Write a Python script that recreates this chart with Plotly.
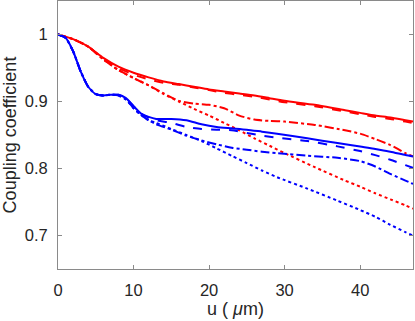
import plotly.graph_objects as go

u_red = [0, 2, 4, 6, 8, 10, 12, 14, 16, 18, 20, 22, 24, 26, 28, 30, 34, 38, 40, 42, 44, 46, 47]
red_solid = [1.0, 0.993, 0.982, 0.965, 0.952, 0.943, 0.936, 0.930, 0.926, 0.922, 0.918, 0.915, 0.912, 0.909, 0.905, 0.901, 0.895, 0.887, 0.883, 0.879, 0.876, 0.872, 0.870]
red_dash = [1.0, 0.993, 0.982, 0.963, 0.950, 0.940, 0.933, 0.928, 0.925, 0.921, 0.917, 0.913, 0.910, 0.907, 0.903, 0.899, 0.893, 0.885, 0.881, 0.877, 0.874, 0.870, 0.868]
red_dashdot = [1.0, 0.993, 0.982, 0.963, 0.947, 0.935, 0.924, 0.912, 0.901, 0.897, 0.895, 0.890, 0.879, 0.873, 0.871, 0.870, 0.865, 0.857, 0.852, 0.844, 0.835, 0.823, 0.818]
red_dot = [1.0, 0.993, 0.982, 0.963, 0.947, 0.935, 0.924, 0.911, 0.900, 0.889, 0.879, 0.868, 0.857, 0.845, 0.834, 0.823, 0.802, 0.782, 0.773, 0.763, 0.754, 0.745, 0.740]

u_blue = [0, 1, 2, 3, 4, 5, 6, 7, 8, 9, 10, 11, 12, 13, 15, 17, 19, 21, 23, 25, 27, 29, 33, 37, 40, 42, 44, 46, 47]
blue_solid = [1.0, 0.995, 0.975, 0.945, 0.922, 0.911, 0.909, 0.910, 0.910, 0.905, 0.893, 0.882, 0.877, 0.874, 0.874, 0.872, 0.866, 0.862, 0.860, 0.858, 0.855, 0.852, 0.845, 0.838, 0.833, 0.829, 0.825, 0.820, 0.818]
blue_dash = [1.0, 0.995, 0.975, 0.945, 0.922, 0.911, 0.909, 0.910, 0.910, 0.905, 0.893, 0.882, 0.876, 0.872, 0.868, 0.862, 0.859, 0.858, 0.857, 0.853, 0.849, 0.846, 0.841, 0.833, 0.826, 0.820, 0.813, 0.805, 0.801]
blue_dashdot = [1.0, 0.995, 0.975, 0.945, 0.922, 0.911, 0.909, 0.910, 0.909, 0.903, 0.890, 0.880, 0.872, 0.866, 0.858, 0.849, 0.842, 0.836, 0.831, 0.828, 0.825, 0.823, 0.819, 0.816, 0.811, 0.803, 0.792, 0.782, 0.777]
blue_dot = [1.0, 0.995, 0.975, 0.945, 0.922, 0.911, 0.909, 0.910, 0.909, 0.903, 0.890, 0.880, 0.872, 0.868, 0.859, 0.850, 0.841, 0.830, 0.819, 0.808, 0.797, 0.787, 0.770, 0.752, 0.738, 0.728, 0.716, 0.705, 0.700]

x_ticks = [0, 10, 20, 30, 40]
y_ticks = [0.7, 0.8, 0.9, 1.0]
y_tick_labels = ["0.7", "0.8", "0.9", "1"]

RED = "#ff0000"
BLUE = "#0000ff"

fig = go.Figure()
series = [
    (u_red, red_solid, RED, "solid"),
    (u_red, red_dash, RED, "dash"),
    (u_red, red_dashdot, RED, "dashdot"),
    (u_red, red_dot, RED, "dot"),
    (u_blue, blue_solid, BLUE, "solid"),
    (u_blue, blue_dash, BLUE, "dash"),
    (u_blue, blue_dashdot, BLUE, "dashdot"),
    (u_blue, blue_dot, BLUE, "dot"),
]
for xs, ys, c, d in series:
    fig.add_trace(go.Scatter(x=xs, y=ys, mode="lines", line=dict(color=c, width=2, dash=d, shape="spline", smoothing=0.6), showlegend=False))

axis_common = dict(
    showgrid=False, zeroline=False, showline=True, linecolor="#8a8a8a", linewidth=1,
    mirror="ticks", ticks="inside", ticklen=4, tickcolor="#8a8a8a", tickwidth=1,
    tickfont=dict(family="Liberation Sans, Arial, sans-serif", size=16.5, color="#262626"),
)
fig.update_layout(
    width=415, height=321,
    margin=dict(l=58, r=2, t=1, b=52),
    paper_bgcolor="white", plot_bgcolor="white",
    font=dict(family="Liberation Sans, Arial, sans-serif", color="#262626"),
    xaxis=dict(range=[0, 47], tickvals=x_ticks, ticklabelstandoff=6,
               title=dict(text="u ( <i>μ</i>m)", font=dict(size=18), standoff=2), **axis_common),
    yaxis=dict(range=[0.65, 1.05], tickvals=y_ticks, ticktext=y_tick_labels, ticklabelstandoff=6,
               title=dict(text="Coupling coefficient", font=dict(size=18), standoff=4), **axis_common),
)
fig.write_html("out.html", config={"displayModeBar": False},
               post_script="document.body.style.margin='0';document.body.style.overflow='hidden';")
